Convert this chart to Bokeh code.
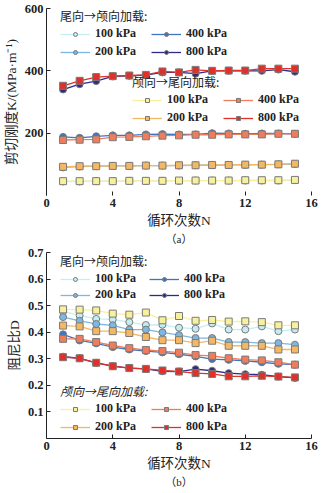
from bokeh.plotting import figure
from bokeh.layouts import column
from bokeh.models import Legend, LegendItem, FixedTicker, Title, Range1d
from bokeh.embed import file_html
from bokeh.resources import INLINE

# ---------------- data ----------------
N = list(range(1, 16))
pressures = ["100 kPa", "200 kPa", "400 kPa", "800 kPa"]

# (a) shear stiffness K, MPa/m
K_tc = {  # 尾向→颅向 (circles)
    "100 kPa": [45, 45, 46, 46, 47, 47, 47, 47, 48, 48, 48, 48, 48, 48, 49],
    "200 kPa": [90, 93, 94, 95, 95, 96, 96, 96, 97, 97, 98, 98, 99, 100, 101],
    "400 kPa": [188, 185, 190, 193, 193, 196, 197, 196, 196, 200, 199, 198, 199, 199, 198],
    "800 kPa": [340, 357, 367, 382, 384, 386, 395, 395, 391, 400, 400, 400, 400, 404, 397],
}
K_ct = {  # 颅向→尾向 (squares)
    "100 kPa": [46, 46, 46, 46, 47, 47, 47, 48, 48, 48, 48, 49, 49, 49, 50],
    "200 kPa": [92, 94, 94, 95, 95, 96, 96, 97, 97, 98, 98, 99, 99, 100, 102],
    "400 kPa": [178, 179, 180, 187, 188, 190, 192, 193, 195, 195, 196, 196, 196, 198, 198],
    "800 kPa": [352, 368, 380, 383, 385, 387, 398, 395, 403, 400, 401, 401, 407, 407, 407],
}
# (b) damping ratio D
D_tc = {
    "100 kPa": [0.478, 0.463, 0.450, 0.448, 0.438, 0.427, 0.428, 0.417, 0.413, 0.433, 0.410, 0.410, 0.422, 0.404, 0.410],
    "200 kPa": [0.457, 0.443, 0.431, 0.426, 0.410, 0.410, 0.399, 0.389, 0.378, 0.378, 0.363, 0.363, 0.359, 0.359, 0.353],
    "400 kPa": [0.392, 0.369, 0.358, 0.344, 0.335, 0.329, 0.324, 0.317, 0.309, 0.299, 0.296, 0.292, 0.287, 0.281, 0.278],
    "800 kPa": [0.308, 0.302, 0.285, 0.272, 0.265, 0.262, 0.253, 0.252, 0.261, 0.255, 0.246, 0.242, 0.240, 0.233, 0.228],
}
D_ct = {
    "100 kPa": [0.486, 0.485, 0.482, 0.470, 0.466, 0.474, 0.445, 0.461, 0.443, 0.446, 0.440, 0.441, 0.438, 0.426, 0.426],
    "200 kPa": [0.425, 0.422, 0.404, 0.404, 0.397, 0.382, 0.370, 0.370, 0.359, 0.368, 0.349, 0.349, 0.349, 0.335, 0.335],
    "400 kPa": [0.375, 0.375, 0.363, 0.350, 0.340, 0.333, 0.329, 0.323, 0.314, 0.311, 0.302, 0.297, 0.294, 0.287, 0.278],
    "800 kPa": [0.306, 0.302, 0.285, 0.272, 0.265, 0.262, 0.256, 0.252, 0.246, 0.243, 0.234, 0.234, 0.236, 0.233, 0.230],
}

x_ticks = [0, 4, 8, 12, 16]
K_ticks = [200, 400, 600]
D_ticks = [0.1, 0.2, 0.3, 0.4, 0.5, 0.6, 0.7]

# ---------------- styles ----------------
FONT = "Liberation Serif, Noto Sans CJK SC"
TFONT = "Noto Sans CJK SC, Liberation Serif"
circ_col = {"100 kPa": "#c4eef2", "200 kPa": "#7db7e2", "400 kPa": "#3e74c2", "800 kPa": "#2c2c86"}
sq_col = {"100 kPa": "#f7f19c", "200 kPa": "#f5b862", "400 kPa": "#ef7c5a", "800 kPa": "#e0302a"}
EDGE = "#7a7a7a"


def make_fig(height, yr, yticks, ylabel, caption, top, bottom, show_xline):
    p = figure(width=326, height=height, output_backend="svg", toolbar_location=None,
               x_range=Range1d(0, 16), y_range=Range1d(*yr),
               min_border_left=46, min_border_right=15,
               min_border_top=top, min_border_bottom=bottom)
    p.grid.visible = False
    p.outline_line_color = None
    p.background_fill_color = "white"
    p.xaxis.ticker = FixedTicker(ticks=x_ticks)
    p.yaxis.ticker = FixedTicker(ticks=yticks)
    for ax in (p.xaxis, p.yaxis):
        ax.major_tick_in = 4
        ax.major_tick_out = 0
        ax.minor_tick_line_color = None
        ax.major_label_text_font = FONT
        ax.major_label_text_font_size = "12.5px"
        ax.major_label_text_font_style = "bold"
        ax.major_label_text_color = "#222222"
        ax.axis_line_color = "#222222"
        ax.major_tick_line_color = "#222222"
        ax.axis_label_text_font = FONT
        ax.axis_label_text_font_size = "13.5px"
        ax.axis_label_text_font_style = "normal"
        ax.axis_label_text_color = "#222222"
        ax.axis_label_standoff = 3
    p.xaxis.major_label_standoff = 3
    p.yaxis.major_label_standoff = 3
    if not show_xline:
        p.xaxis.axis_line_color = None
    p.xaxis.axis_label = "循环次数N"
    p.yaxis.axis_label = ylabel
    t = Title(text=caption, align="center", text_font=FONT, text_font_size="11px",
              text_font_style="normal", text_color="#222222", standoff=0)
    p.add_layout(t, "below")
    return p


def add_series(p, data_c, data_s):
    r_c, r_s = {}, {}
    for k in pressures:
        l = p.line(N, data_c[k], line_color=circ_col[k], line_width=1.3)
        s = p.scatter(N, data_c[k], marker="circle", size=7, fill_color=circ_col[k],
                      line_color=EDGE, line_width=1)
        r_c[k] = [l, s]
    for k in pressures:
        l = p.line(N, data_s[k], line_color=sq_col[k], line_width=1.3)
        s = p.scatter(N, data_s[k], marker="square", size=7, fill_color=sq_col[k],
                      line_color=EDGE, line_width=1)
        r_s[k] = [l, s]
    return r_c, r_s


def add_legend(p, title, rends, loc, spacing, title_style="normal"):
    items = [LegendItem(label=k, renderers=rends[k]) for k in pressures]
    leg = Legend(items=items, ncols=2, title=title, location=loc,
                 border_line_color=None, background_fill_alpha=0,
                 padding=0, margin=0, spacing=spacing,
                 glyph_width=30, glyph_height=10, label_height=14, label_width=53,
                 label_standoff=5,
                 label_text_font=FONT, label_text_font_size="12px",
                 label_text_font_style="bold", label_text_color="#222222",
                 title_text_font=TFONT, title_text_font_size="12px",
                 title_text_font_style=title_style, title_text_color="#222222",
                 title_standoff=2)
    p.add_layout(leg)


# (a)
pa = make_fig(244, (0, 600), K_ticks, "剪切刚度K/(MPa·m⁻¹)", "（a）", 8, 48, False)
rc, rs = add_series(pa, K_tc, K_ct)
add_legend(pa, "尾向→颅向加载:", rc, (14, 136), 3)
add_legend(pa, "颅向→尾向加载:", rs, (86, 70), 3)

# (b)
pb = make_fig(249, (0, 0.7), D_ticks, "阻尼比D", "（b）", 8, 55, True)
rc, rs = add_series(pb, D_tc, D_ct)
add_legend(pb, "尾向→颅向加载:", rc, (14, 136), 1)
add_legend(pb, "颅向→尾向加载:", rs, (14, 4), 3, "italic")

layout = column(pa, pb, spacing=0)
open("out.html", "w").write(file_html(layout, INLINE))
